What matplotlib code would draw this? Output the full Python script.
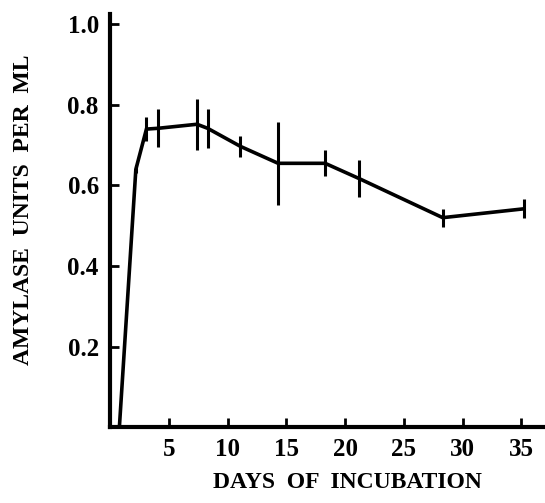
import matplotlib.pyplot as plt
import numpy as np

days = [0.8, 2.2, 3.1, 4.1, 7.4, 8.3, 11.1, 14.3, 18.3, 21.2, 28.3, 35.2]
amylase = [0.0, 0.64, 0.74, 0.742, 0.752, 0.742, 0.697, 0.655, 0.655, 0.617, 0.52, 0.542]
err = [0.0, 0.01, 0.03, 0.047, 0.063, 0.048, 0.027, 0.103, 0.032, 0.045, 0.022, 0.024]

x_ticks = [5, 10, 15, 20, 25, 30, 35]
y_ticks = [0.2, 0.4, 0.6, 0.8, 1.0]

plt.rcParams['font.family'] = 'Liberation Serif'
plt.rcParams['font.weight'] = 'bold'

fig = plt.figure(figsize=(5.45, 5.03), dpi=100)
ax = fig.add_axes([0.2018, 0.151, 0.7982, 0.8205])

ax.plot(days, amylase, color='black', lw=2.6, solid_joinstyle='miter')
ax.errorbar(days, amylase, yerr=err, fmt='none', ecolor='black', elinewidth=2.2, capsize=0)

ax.set_xlim(0, 37)
ax.set_ylim(0, 1.025)

for s in ['top', 'right']:
    ax.spines[s].set_visible(False)
for s in ['left', 'bottom']:
    ax.spines[s].set_linewidth(3)

ax.set_xticks(x_ticks)
ax.set_yticks(y_ticks)
ax.set_yticklabels(['%.1f' % v for v in y_ticks])
ax.tick_params(direction='in', length=6.5, width=2, labelsize=18, pad=8)

ax.set_xlabel('DAYS  OF  INCUBATION', fontsize=17, fontweight='bold', va='center')
ax.xaxis.set_label_coords(0.547, -0.135)
ax.set_ylabel('AMYLASE  UNITS  PER  ML', fontsize=17, fontweight='bold', va='center')
ax.yaxis.set_label_coords(-0.198, 0.526)

fig.savefig('out.png', dpi=100)
